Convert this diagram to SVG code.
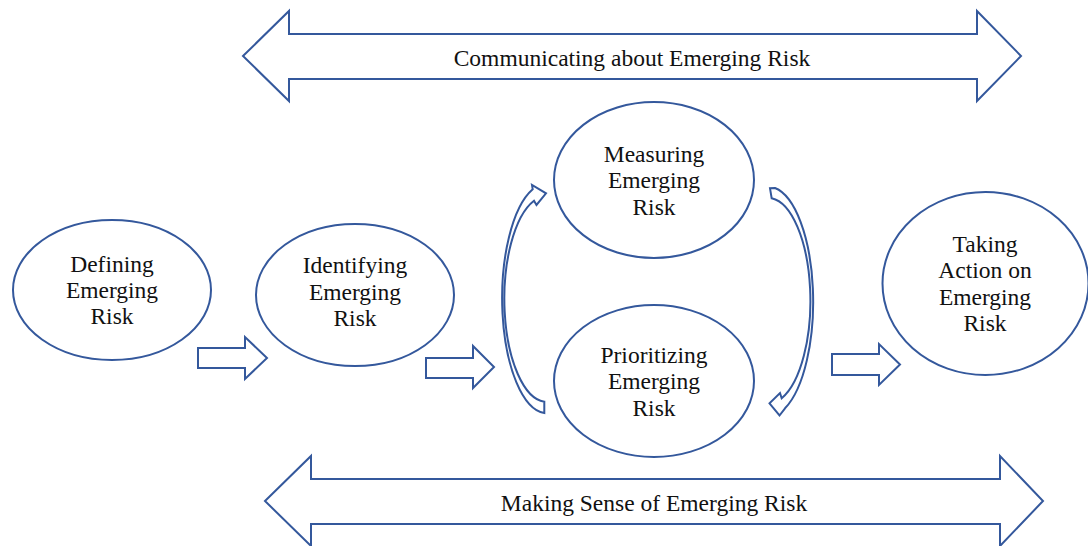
<svg xmlns="http://www.w3.org/2000/svg" width="1088" height="546" viewBox="0 0 1088 546">
  <style>
    .shape { fill: #ffffff; stroke: #34589c; stroke-width: 2; stroke-linejoin: miter; }
    .arrow { fill: #ffffff; stroke: #34589c; stroke-width: 2; stroke-linejoin: miter; }
    .label { font-family: "Liberation Serif", "Times New Roman", serif; font-size: 23.5px; fill: #111111; text-anchor: middle; }
  </style>
  <rect width="1088" height="546" fill="#ffffff"/>

  <!-- Wide double-headed band arrows -->
  <g id="band-communicating">
    <path class="arrow" d="M 243 56 L 289 11 L 289 34 L 977 34 L 977 11 L 1021 56 L 977 101 L 977 79 L 289 79 L 289 101 Z"/>
    <text class="label" x="632" y="66">Communicating about Emerging Risk</text>
  </g>
  <g id="band-making-sense">
    <path class="arrow" d="M 265 501 L 311 456 L 311 479 L 1000 479 L 1000 456 L 1043 501 L 1000 546 L 1000 524 L 311 524 L 311 546 Z"/>
    <text class="label" x="654" y="511">Making Sense of Emerging Risk</text>
  </g>

  <!-- Stage nodes -->
  <g id="node-defining">
    <ellipse class="shape" cx="112" cy="290" rx="99" ry="70"/>
    <text class="label" x="112" y="271.5">Defining</text>
    <text class="label" x="112" y="298">Emerging</text>
    <text class="label" x="112" y="324">Risk</text>
  </g>
  <g id="node-identifying">
    <ellipse class="shape" cx="355" cy="295" rx="99" ry="71"/>
    <text class="label" x="355" y="273">Identifying</text>
    <text class="label" x="355" y="299.5">Emerging</text>
    <text class="label" x="355" y="326">Risk</text>
  </g>
  <g id="node-measuring">
    <ellipse class="shape" cx="654" cy="180" rx="100" ry="78"/>
    <text class="label" x="654" y="161.5">Measuring</text>
    <text class="label" x="654" y="188">Emerging</text>
    <text class="label" x="654" y="214.5">Risk</text>
  </g>
  <g id="node-prioritizing">
    <ellipse class="shape" cx="654" cy="381" rx="100" ry="76"/>
    <text class="label" x="654" y="362.5">Prioritizing</text>
    <text class="label" x="654" y="389">Emerging</text>
    <text class="label" x="654" y="415.5">Risk</text>
  </g>
  <g id="node-taking-action">
    <ellipse class="shape" cx="985.5" cy="283.5" rx="103" ry="91.5"/>
    <text class="label" x="985" y="251.5">Taking</text>
    <text class="label" x="985" y="278">Action on</text>
    <text class="label" x="985" y="304.5">Emerging</text>
    <text class="label" x="985" y="331">Risk</text>
  </g>

  <!-- Connectors: block arrows and curved loop arrows -->
  <g id="connectors">
    <path class="arrow" d="M 198 348 L 245 348 L 245 337 L 267 358 L 245 379 L 245 368 L 198 368 Z"/>
    <path class="arrow" d="M 426 358 L 473 358 L 473 346 L 494 367 L 473 388 L 473 378 L 426 378 Z"/>
    <path class="arrow" d="M 832 354 L 879 354 L 879 344 L 900 364.5 L 879 385 L 879 375 L 832 375 Z"/>
    <path class="arrow" d="M 544.3 413 A 45 115 0 0 1 532.7 189.3 L 532 185 L 546 193.3 L 536.5 205 L 534 200.7 A 42.5 103 0 0 0 544.3 401.7 Z"/>
    <path class="arrow" d="M 771.7 198.3 L 770 188.3 L 775 188 A 45 115 0 0 1 785 408.3 L 779.5 415.5 L 769.5 403.3 L 780 393 L 781.7 398.3 A 42.5 103 0 0 0 771.7 198.3 Z"/>
  </g>
</svg>
